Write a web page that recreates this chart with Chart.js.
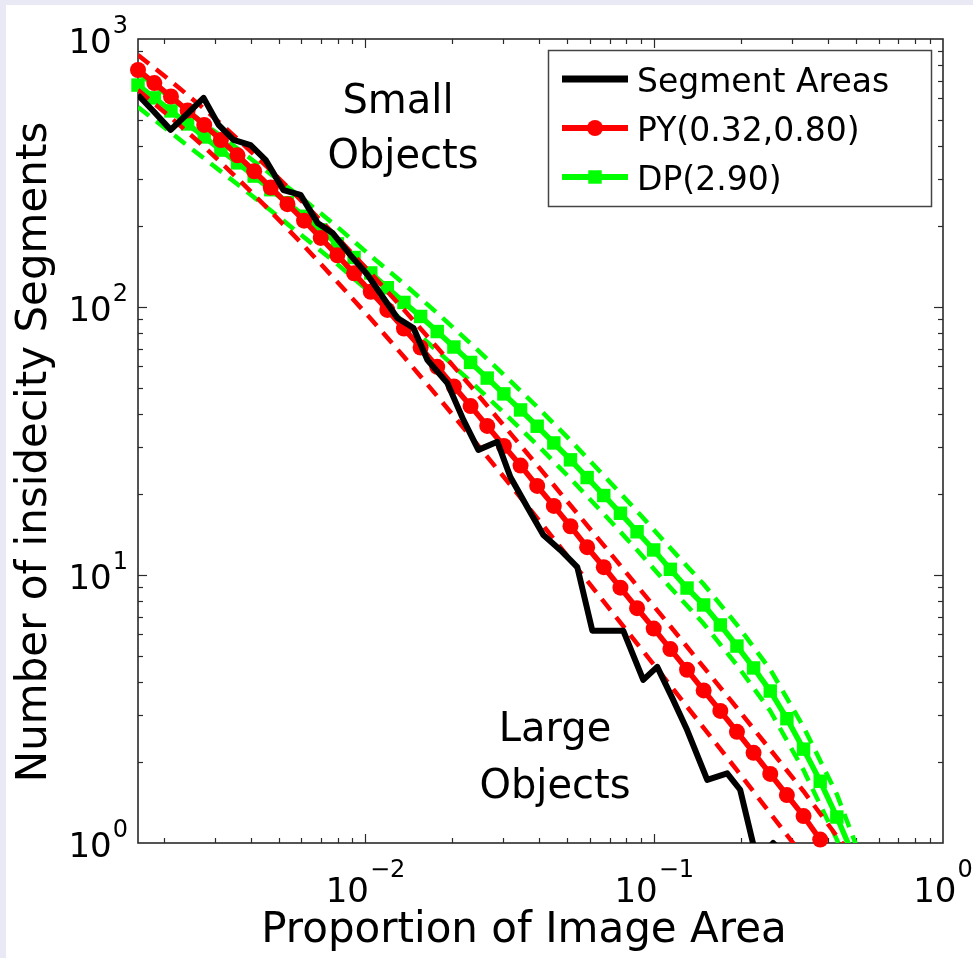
<!DOCTYPE html>
<html>
<head>
<meta charset="utf-8">
<script src="https://cdn.jsdelivr.net/npm/chart.js"></script>
<style>
html,body{margin:0;padding:0;background:#e9e9f5;}
canvas{display:block;}
</style>
</head>
<body>
<canvas id="c" width="973" height="958"></canvas>
<script>
// ---------------- data ----------------
const seriesLabels = ['Segment Areas', 'PY(0.32,0.80)', 'DP(2.90)'];
const xTitle = 'Proportion of Image Area';
const yTitle = 'Number of insidecity Segments';
const xTickExponents = [-2, -1, 0];
const yTickExponents = [0, 1, 2, 3];
const annotationSmall = ['Small', 'Objects'];
const annotationLarge = ['Large', 'Objects'];

// observed segment areas (black)
const blackX = [0.00163, 0.001855, 0.002115, 0.002412, 0.00275, 0.003099, 0.003493, 0.004, 0.004508, 0.005202,
  0.005958, 0.006823, 0.007687, 0.008872, 0.01016, 0.01154, 0.0129, 0.01466, 0.01639, 0.01921,
  0.02183, 0.0246, 0.02862, 0.03175, 0.03636, 0.0413, 0.04727, 0.05414, 0.06103, 0.06878,
  0.0781, 0.0916, 0.1024, 0.1154, 0.13, 0.1526, 0.1789, 0.1984, 0.2272, 0.2581, 0.2955];
const blackY = [618, 534, 458, 525, 603, 478, 420, 402, 354, 273,
  262, 206, 189, 156, 132, 108, 91, 83.5, 63.4, 52,
  37.9, 29.3, 31.4, 23.2, 17.9, 14.1, 12.4, 10.7, 6.2, 6.2,
  6.2, 4.06, 4.54, 3.48, 2.64, 1.72, 1.82, 1.58, 0.86, 1.0, 0.86];

// x positions of the fitted-curve markers
const fitX = [0.00163, 0.001857, 0.00212, 0.002421, 0.002764, 0.003157, 0.003604, 0.004116, 0.0047, 0.005367,
  0.006128, 0.006998, 0.00799, 0.00913, 0.01043, 0.0119, 0.01359, 0.01552, 0.01772, 0.02024,
  0.02312, 0.0264, 0.03015, 0.03444, 0.03932, 0.0449, 0.05127, 0.05856, 0.06687, 0.07637,
  0.0872, 0.09959, 0.1137, 0.1299, 0.1483, 0.1694, 0.1934, 0.2208, 0.2522, 0.288,
  0.3289, 0.3756, 0.4289, 0.4898];
// PY(0.32,0.80) fit (red, circles)
const pyY = [766, 685, 610, 541, 478, 420, 368, 321, 279, 242,
  210, 181, 156, 133.5, 114, 97.5, 83.1, 70.6, 59.8, 50.5,
  42.7, 36.0, 30.3, 25.6, 21.5, 18.1, 15.2, 12.7, 10.7, 8.97,
  7.52, 6.31, 5.29, 4.43, 3.71, 3.11, 2.60, 2.17, 1.81, 1.51,
  1.26, 1.03];
// DP(2.90) fit (green, squares)
const dpY = [673, 603, 539, 482, 431, 385, 345, 308, 274, 245,
  218, 194, 172, 153, 134, 118, 104, 92.2, 81.0, 70.9,
  62.1, 54.3, 47.4, 41.3, 35.9, 31.1, 26.9, 23.1, 19.8, 17.0,
  14.5, 12.4, 10.5, 8.94, 7.73, 6.51, 5.43, 4.50, 3.69, 2.91,
  2.24, 1.70, 1.25, 0.894];

// dashed interval bands
const bandX = [0.00163, 0.00212, 0.002764, 0.003604, 0.0047, 0.006128, 0.00799, 0.01043, 0.01359, 0.01772,
  0.02312, 0.03015, 0.03932, 0.05127, 0.06687, 0.0872, 0.1137, 0.1483, 0.1934, 0.2522,
  0.3289, 0.4289, 0.5593];
const pyUpper = [871, 696.5, 548.7, 423.9, 323.3, 243.3, 181.6, 133.7, 97.7, 70.6,
  50.7, 36.1, 25.7, 18.2, 12.9, 9.11, 6.44, 4.53, 3.19, 2.23,
  1.56, 1.06, 0.73];
const pyLower = [645, 509, 396, 302, 227, 169, 124, 90.4, 65.2, 46.5,
  32.9, 23.2, 16.3, 11.4, 7.96, 5.55, 3.87, 2.69, 1.87, 1.29,
  0.89];
const dpUpper = [747, 601, 484, 390, 313, 251, 199, 155, 122, 94.9,
  73.1, 55.9, 42.4, 31.8, 23.5, 17.3, 12.6, 9.24, 6.52, 4.44,
  2.71, 1.52, 0.715];
const dpLower = [557, 447, 358, 287, 229, 182, 144.5, 112.6, 88.1, 68.6,
  52.7, 40.3, 30.6, 22.9, 16.9, 12.4, 8.98, 6.58, 4.61, 3.11,
  1.87, 1.03, 0.507];

// ---------------- chart ----------------
const FONT = '"DejaVu Sans", "Liberation Sans", sans-serif';
const RED = '#ff0000', GREEN = '#00ff00', BLACK = '#000000';
const pts = (xs, ys) => ys.map((y, i) => ({ x: xs[i], y: y }));

const bgPlugin = {
  id: 'bg',
  beforeDraw(chart) {
    const c = chart.ctx;
    c.save();
    c.fillStyle = '#e9e9f5';
    c.fillRect(0, 0, chart.width, chart.height);
    c.fillStyle = '#ffffff';
    c.fillRect(6, 5, chart.width - 6, chart.height - 5);
    c.restore();
  },
  beforeDatasetsDraw(chart) {
    const c = chart.ctx, a = chart.chartArea, xs = chart.scales.x, ys = chart.scales.y;
    c.save();
    c.strokeStyle = '#2a2a2a';
    c.lineWidth = 1.2;
    const seg = (x1, y1, x2, y2) => { c.beginPath(); c.moveTo(x1, y1); c.lineTo(x2, y2); c.stroke(); };
    for (let d = -3; d <= 0; d++) {
      for (let m = 1; m <= 9; m++) {
        const v = m * Math.pow(10, d);
        if (v <= xs.min * 1.0001 || v >= xs.max * 0.9999) continue;
        const px = Math.round(xs.getPixelForValue(v)) + 0.5;
        const L = m === 1 ? 9 : 5;
        seg(px, a.bottom, px, a.bottom - L);
        seg(px, a.top, px, a.top + L);
      }
    }
    for (let d = 0; d <= 2; d++) {
      for (let m = 1; m <= 9; m++) {
        const v = m * Math.pow(10, d);
        if (v <= ys.min * 1.0001 || v >= ys.max * 0.9999) continue;
        const py = Math.round(ys.getPixelForValue(v)) + 0.5;
        const L = m === 1 ? 9 : 5;
        seg(a.left, py, a.left + L, py);
        seg(a.right, py, a.right - L, py);
      }
    }
    c.lineWidth = 1.6;
    c.strokeRect(a.left, a.top, a.right - a.left, a.bottom - a.top);
    c.restore();
  },
  afterDraw(chart) {
    const c = chart.ctx, a = chart.chartArea, xs = chart.scales.x, ys = chart.scales.y;
    c.save();
    c.fillStyle = '#000';
    c.textBaseline = 'alphabetic';
    const baseFont = '34px ' + FONT, expFont = '24px ' + FONT;
    const powWidth = (e) => {
      c.font = baseFont; const w1 = c.measureText('10').width;
      c.font = expFont; const w2 = c.measureText(e).width;
      return [w1, w2];
    };
    const drawPow = (e, left, baseY, expY) => {
      const [w1] = powWidth(e);
      c.textAlign = 'left';
      c.font = baseFont; c.fillText('10', left, baseY);
      c.font = expFont; c.fillText(e, left + w1 + 1, expY);
    };
    const expStr = (n) => (n < 0 ? '\u2212' + Math.abs(n) : String(n));
    // x tick labels
    xTickExponents.forEach(n => {
      const e = expStr(n);
      const [w1, w2] = powWidth(e);
      const px = xs.getPixelForValue(Math.pow(10, n));
      drawPow(e, px - (w1 + 1 + w2) / 2, a.bottom + 59, a.bottom + 34);
    });
    // y tick labels
    yTickExponents.forEach(n => {
      const e = expStr(n);
      const [w1, w2] = powWidth(e);
      const py = ys.getPixelForValue(Math.pow(10, n));
      drawPow(e, 128 - (w1 + 1 + w2), py + 14, py - 6);
    });
    // axis titles
    c.font = '42px ' + FONT;
    c.textAlign = 'center';
    c.fillText(xTitle, 524, 942);
    c.save();
    c.translate(46, 452);
    c.rotate(-Math.PI / 2);
    c.fillText(yTitle, 0, 0);
    c.restore();
    // annotations
    c.font = '40px ' + FONT;
    c.fillText(annotationSmall[0], 398, 113);
    c.fillText(annotationSmall[1], 403, 168);
    c.fillText(annotationLarge[0], 555, 741);
    c.fillText(annotationLarge[1], 555, 798);
    // legend
    const L = { x: 548, y: 50, w: 383, h: 156 };
    c.fillStyle = '#fff';
    c.fillRect(L.x, L.y, L.w, L.h);
    c.strokeStyle = '#444';
    c.lineWidth = 1.5;
    c.strokeRect(L.x + 0.5, L.y + 0.5, L.w, L.h);
    const rows = [79, 128, 177];
    const ds = chart.data.datasets;
    const legendItems = [ds[0], ds[1], ds[4]];
    legendItems.forEach((d, i) => {
      const yy = rows[i];
      c.strokeStyle = d.borderColor;
      c.lineWidth = i === 0 ? 7 : 6;
      c.beginPath(); c.moveTo(562, yy); c.lineTo(628, yy); c.stroke();
      if (d.pointRadius > 0) {
        c.fillStyle = d.pointBackgroundColor;
        if (d.pointStyle === 'rect') {
          const s = d.pointRadius * Math.SQRT1_2;
          c.fillRect(595 - s, yy - s, 2 * s, 2 * s);
        } else {
          c.beginPath(); c.arc(595, yy, d.pointRadius, 0, Math.PI * 2); c.fill();
        }
      }
      c.fillStyle = '#000';
      c.font = '33px ' + FONT;
      c.textAlign = 'left';
      c.fillText(d.label, 637, yy + 13);
    });
    c.restore();
  }
};

const dashed = (xs, ys, color) => ({
  data: pts(xs, ys), showLine: true, borderColor: color, borderWidth: 4.5,
  borderDash: [14, 9], pointRadius: 0, clip: 0, fill: false
});

new Chart(document.getElementById('c').getContext('2d'), {
  type: 'scatter',
  data: {
    datasets: [
      { label: seriesLabels[0], data: pts(blackX, blackY), showLine: true, borderColor: BLACK, borderWidth: 6,
        borderJoinStyle: 'round', pointRadius: 0, clip: 0 },
      { label: seriesLabels[1], data: pts(fitX, pyY), showLine: true, borderColor: RED, borderWidth: 5.5,
        pointRadius: 8, pointStyle: 'circle', pointBackgroundColor: RED, pointBorderWidth: 0, clip: false },
      dashed(bandX, pyUpper, RED),
      dashed(bandX, pyLower, RED),
      { label: seriesLabels[2], data: pts(fitX, dpY), showLine: true, borderColor: GREEN, borderWidth: 5.5,
        pointRadius: 9.5, pointStyle: 'rect', pointBackgroundColor: GREEN, pointBorderWidth: 0,
        clip: { left: 12, top: 12, right: 12, bottom: 0 } },
      dashed(bandX, dpUpper, GREEN),
      dashed(bandX, dpLower, GREEN)
    ]
  },
  options: {
    responsive: false,
    animation: false,
    devicePixelRatio: 1,
    events: [],
    layout: { padding: { left: 138, right: 30, top: 39, bottom: 115 } },
    scales: {
      x: { type: 'logarithmic', min: 0.00163, max: 1, display: false },
      y: { type: 'logarithmic', min: 1, max: 1000, display: false }
    },
    elements: { line: { tension: 0 } },
    plugins: { legend: { display: false }, tooltip: { enabled: false } }
  },
  plugins: [bgPlugin]
});
</script>
</body>
</html>
